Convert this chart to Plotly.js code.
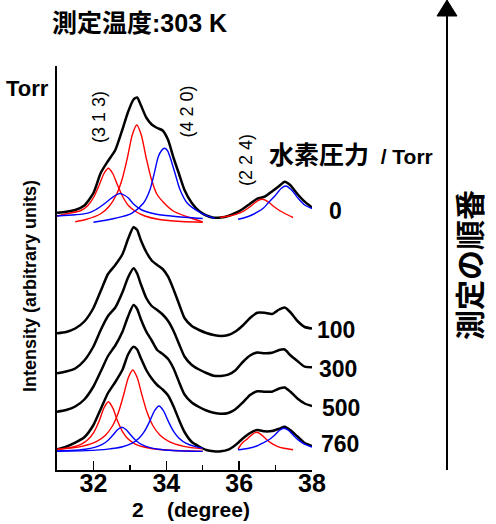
<!DOCTYPE html>
<html><head><meta charset="utf-8">
<script src="https://cdn.plot.ly/plotly-3.0.1.min.js"></script>
<style>html,body{margin:0;padding:0;background:#fff}#chart{width:496px;height:524px}</style>
</head><body><div id="chart"></div>
<script>
// 2θ (degree) sampling positions for measured patterns
const twoTheta = [31.0, 31.25, 31.5, 31.75, 32.0, 32.2, 32.4, 32.6, 32.8, 32.95, 33.1, 33.2, 33.3, 33.45, 33.6, 33.75, 33.9, 34.05, 34.2, 34.35, 34.5, 34.7, 34.9, 35.1, 35.3, 35.5, 35.7, 35.9, 36.1, 36.3, 36.5, 36.7, 36.9, 37.1, 37.25, 37.4, 37.6, 37.8, 38.0];
// measured intensities (arbitrary units, stacked) for each hydrogen pressure
const int0   = [257.3, 258.3, 260.0, 264.5, 277.0, 297.0, 309.0, 320.0, 341.0, 358.0, 370.5, 372.5, 365.0, 352.5, 345.5, 342.0, 339.5, 330.0, 312.0, 296.0, 280.0, 267.0, 259.0, 254.5, 252.3, 252.5, 254.0, 257.0, 261.0, 266.3, 271.3, 273.3, 278.5, 284.0, 288.3, 285.0, 276.0, 268.3, 262.5];
const int100 = [136.7, 138.0, 141.5, 148.5, 162.0, 179.0, 196.0, 205.0, 216.0, 231.0, 242.7, 240.0, 230.0, 218.0, 209.5, 205.0, 201.0, 193.3, 180.5, 166.0, 152.0, 144.0, 140.0, 137.0, 135.0, 134.0, 135.0, 138.5, 144.5, 152.0, 157.3, 157.3, 156.0, 160.5, 162.5, 158.0, 149.0, 143.0, 141.5];
const int300 = [96.7, 98.5, 101.5, 109.5, 123.5, 140.0, 154.0, 162.5, 178.0, 192.5, 201.7, 196.5, 186.0, 172.0, 164.0, 160.0, 155.5, 149.0, 139.0, 126.0, 113.5, 105.0, 100.5, 97.0, 94.3, 94.0, 95.3, 99.8, 108.0, 114.5, 117.5, 116.7, 117.2, 120.0, 120.5, 115.0, 109.0, 103.3, 102.7];
const int500 = [58.3, 60.0, 63.5, 70.5, 83.5, 98.5, 114.0, 124.5, 138.5, 153.5, 165.0, 161.0, 151.0, 138.5, 129.5, 120.0, 116.0, 111.0, 101.5, 88.0, 75.5, 67.5, 63.0, 59.5, 57.3, 56.2, 57.0, 60.8, 67.5, 75.0, 78.8, 78.3, 78.3, 81.5, 82.5, 78.5, 71.5, 66.5, 64.0];
const int760 = [20.7, 23.3, 27.3, 32.7, 45.0, 61.0, 77.0, 88.0, 100.5, 115.5, 123.3, 120.5, 112.0, 100.0, 91.5, 85.0, 80.5, 74.5, 63.5, 50.0, 38.0, 28.0, 23.5, 20.0, 18.7, 18.7, 20.3, 25.0, 31.5, 37.0, 40.0, 38.7, 39.0, 41.3, 43.3, 40.0, 33.5, 27.0, 24.0];

// fitted components, 0 Torr
const fit0RedAx = [31.0, 31.3, 31.66, 31.86, 32.01, 32.16, 32.29, 32.41, 32.53, 32.66, 32.81, 32.96, 33.16, 33.41, 33.81, 34.41, 35.0];
const fit0RedAy = [254.0, 256.5, 259.5, 265.0, 273.0, 285.0, 296.5, 301.7, 296.5, 285.0, 273.0, 264.5, 258.5, 254.0, 250.5, 248.5, 247.8];
const fit0RedBx = [31.5, 31.79, 32.19, 32.44, 32.64, 32.79, 32.94, 33.07, 33.19, 33.31, 33.44, 33.59, 33.74, 33.94, 34.19, 34.59, 35.0];
const fit0RedBy = [248.3, 250.5, 256.0, 264.0, 276.0, 291.0, 313.5, 335.5, 345.0, 335.5, 313.5, 291.0, 276.0, 267.0, 259.0, 253.0, 248.0];
const fit0BlueAx = [31.0, 31.5, 31.85, 32.05, 32.32, 32.5, 32.62, 32.73, 32.84, 32.96, 33.1, 33.33, 33.7, 34.2, 35.0];
const fit0BlueAy = [254.0, 255.2, 256.9, 260.0, 266.7, 272.0, 275.0, 276.5, 275.0, 272.0, 266.0, 260.0, 256.0, 253.8, 251.5];
const fit0BlueBx = [32.0, 32.6, 33.05, 33.37, 33.55, 33.67, 33.78, 33.87, 33.95, 34.03, 34.10, 34.24, 34.38, 34.58, 34.97, 35.33];
const fit0BlueBy = [247.7, 251.7, 256.7, 266.7, 280.0, 296.7, 313.3, 319.5, 321.7, 319.5, 313.3, 296.7, 280.0, 266.7, 256.7, 251.7];
const fit0RedCx = [35.47, 35.73, 35.93, 36.13, 36.28, 36.43, 36.53, 36.63, 36.73, 36.83, 36.98, 37.13, 37.28, 37.48];
const fit0RedCy = [252.6, 254.0, 255.9, 259.0, 262.7, 267.2, 269.7, 270.7, 269.7, 267.2, 262.7, 259.0, 256.0, 252.5];
const fit0BlueCx = [35.97, 36.25, 36.52, 36.67, 36.79, 36.98, 37.16, 37.28, 37.44, 37.62, 37.80, 38.0];
const fit0BlueCy = [250.7, 253.5, 258.3, 262.0, 266.7, 274.0, 281.7, 284.0, 280.0, 271.7, 265.0, 261.5];

// fitted components, 760 Torr
const fit760RedAx = [31.0, 31.41, 31.66, 31.86, 32.01, 32.16, 32.29, 32.41, 32.53, 32.66, 32.81, 32.96, 33.16, 33.41, 33.81, 34.41, 35.0];
const fit760RedAy = [20.5, 22.7, 25.7, 30.7, 37.6, 49.2, 62.1, 68.3, 62.1, 49.2, 37.6, 30.7, 25.7, 22.7, 20.5, 19.3, 18.8];
const fit760RedBx = [31.0, 31.68, 32.08, 32.33, 32.53, 32.68, 32.83, 32.96, 33.08, 33.20, 33.33, 33.48, 33.63, 33.83, 34.08, 34.48, 35.0];
const fit760RedBy = [20.6, 23.6, 28.3, 34.7, 44.5, 56.9, 75.2, 92.5, 100.0, 92.5, 75.2, 56.9, 44.5, 34.7, 28.3, 23.6, 21.1];
const fit760BlueAx = [31.0, 31.38, 31.78, 32.03, 32.23, 32.38, 32.53, 32.66, 32.78, 32.90, 33.03, 33.18, 33.33, 33.53, 33.78, 34.18, 35.0];
const fit760BlueAy = [19.0, 19.5, 20.8, 22.6, 25.4, 29.0, 34.7, 40.2, 42.7, 40.2, 34.7, 29.0, 25.4, 22.6, 20.8, 19.5, 18.6];
const fit760BlueBx = [31.0, 31.8, 32.4, 32.8, 33.05, 33.25, 33.4, 33.55, 33.68, 33.80, 33.92, 34.05, 34.2, 34.35, 34.55, 34.8, 35.0];
const fit760BlueBy = [18.8, 19.4, 20.9, 23.3, 26.6, 31.8, 38.6, 49.1, 59.4, 64.0, 59.4, 49.1, 38.6, 31.8, 26.6, 23.3, 21.8];
const fit760RedCx = [35.97, 36.08, 36.23, 36.36, 36.48, 36.60, 36.73, 36.88, 37.03, 37.23, 37.48];
const fit760RedCy = [21.0, 26.8, 31.3, 35.7, 37.7, 35.7, 31.3, 26.8, 23.9, 21.7, 20.3];
const fit760BlueCx = [35.97, 36.23, 36.48, 36.68, 36.83, 36.98, 37.11, 37.23, 37.35, 37.48, 37.63, 37.78, 38.0];
const fit760BlueCy = [20.2, 21.5, 24.0, 27.5, 30.5, 35.0, 39.7, 41.7, 39.7, 35.0, 29.9, 26.2, 23.0];

// tick labels and text
const tickVals = [32, 34, 36, 38];
const tickText = ['32', '34', '36', '38'];
const minorTickVals = [33, 35, 37];
const pressureLabels = ['0', '100', '300', '500', '760'];
const hklLabels = ['(3 1 3)', '(4 2 0)', '(2 2 4)'];

const FONT = 'Liberation Sans, Arial, Noto Sans CJK JP, sans-serif';
const RED = '#ff0000', BLUE = '#0000ff';

function curve(x, y, color, width, sm) {
  return {x: x, y: y, type: 'scatter', mode: 'lines',
    line: {color: color, width: width, shape: 'spline', smoothing: sm},
    hoverinfo: 'skip', showlegend: false};
}
const traces = [
  curve(twoTheta, int0, 'black', 2.5, 0.6),
  curve(twoTheta, int100, 'black', 2.5, 0.6),
  curve(twoTheta, int300, 'black', 2.5, 0.6),
  curve(twoTheta, int500, 'black', 2.5, 0.6),
  curve(twoTheta, int760, 'black', 2.5, 0.6),
  curve(fit0RedAx, fit0RedAy, RED, 1.4, 0.8),
  curve(fit0RedBx, fit0RedBy, RED, 1.4, 0.8),
  curve(fit0BlueAx, fit0BlueAy, BLUE, 1.4, 0.8),
  curve(fit0BlueBx, fit0BlueBy, BLUE, 1.4, 0.8),
  curve(fit0RedCx, fit0RedCy, RED, 1.4, 0.8),
  curve(fit0BlueCx, fit0BlueCy, BLUE, 1.4, 0.8),
  curve(fit760RedAx, fit760RedAy, RED, 1.4, 0.8),
  curve(fit760RedBx, fit760RedBy, RED, 1.4, 0.8),
  curve(fit760BlueAx, fit760BlueAy, BLUE, 1.4, 0.8),
  curve(fit760BlueBx, fit760BlueBy, BLUE, 1.4, 0.8),
  curve(fit760RedCx, fit760RedCy, RED, 1.4, 0.8),
  curve(fit760BlueCx, fit760BlueCy, BLUE, 1.4, 0.8)
];

function ann(text, x, y, size, o) {
  o = o || {};
  return Object.assign({text: text, x: x, y: y, xref: 'paper', yref: 'paper',
    showarrow: false, xanchor: 'center', yanchor: 'middle',
    font: {family: FONT, size: size, color: 'black', weight: o.normal ? 'normal' : 'bold'}}, o.extra || {});
}

const annotations = [
  ann('測定温度:303 K', -0.0275, 1.1064, 25, {extra: {xanchor: 'left'}}),
  ann('Torr', -0.2078, 0.944, 22, {extra: {xanchor: 'left'}}),
  ann('<span style="font-size:25px">水素圧力</span>\u00A0\u00A0/ Torr', 0.8235, 0.7797, 21, {extra: {xanchor: 'left'}}),
  ann(pressureLabels[0], 1.0902, 0.6411, 23),
  ann(pressureLabels[1], 1.0941, 0.3465, 23),
  ann(pressureLabels[2], 1.1000, 0.2500, 23),
  ann(pressureLabels[3], 1.1137, 0.1547, 23),
  ann(pressureLabels[4], 1.1098, 0.0644, 23),
  ann(hklLabels[0], 0.1627, 0.8750, 18, {normal: true, extra: {textangle: -90}}),
  ann(hklLabels[1], 0.5098, 0.8874, 18, {normal: true, extra: {textangle: -90}}),
  ann(hklLabels[2], 0.7431, 0.7686, 18, {normal: true, extra: {textangle: -90}}),
  ann('測定の順番', 1.6196, 0.5074, 30, {extra: {textangle: -90}}),
  ann('Intensity (arbitrary units)', -0.1059, 0.4554, 18, {extra: {textangle: -90}}),
  ann('2\u00A0\u00A0\u00A0\u00A0(degree)', 0.2863, -0.0978, 21, {extra: {xanchor: 'left'}})
];

const shapes = [
  {type: 'line', xref: 'paper', yref: 'paper', x0: 1.5294, x1: 1.5294, y0: 0, y1: 1.1238,
   line: {color: 'black', width: 2}},
  {type: 'path', xref: 'paper', yref: 'paper',
   path: 'M 1.4902 1.1238 L 1.5686 1.1238 L 1.5294 1.1634 Z',
   fillcolor: 'black', line: {color: 'black', width: 1}}
];

const layout = {
  width: 496, height: 524,
  margin: {l: 57, r: 184, t: 66, b: 54, pad: 0},
  paper_bgcolor: 'white', plot_bgcolor: 'white', showlegend: false,
  xaxis: {range: [31, 38], showline: true, linecolor: 'black', linewidth: 2,
    showgrid: false, zeroline: false, ticks: 'inside', ticklen: 9, tickwidth: 1.5,
    tickcolor: 'black', tickmode: 'array', tickvals: tickVals, ticktext: tickText,
    ticklabelstandoff: -10,
    tickfont: {family: FONT, size: 25, color: 'black', weight: 'bold'},
    minor: {tickmode: 'array', tickvals: minorTickVals, ticks: 'inside', ticklen: 5, tickwidth: 1.5, tickcolor: 'black'}},
  yaxis: {range: [0, 404], showline: true, linecolor: 'black', linewidth: 2,
    showgrid: false, zeroline: false, ticks: '', showticklabels: false},
  annotations: annotations,
  shapes: shapes
};

Plotly.newPlot('chart', traces, layout, {staticPlot: true, displayModeBar: false});
</script>
</body></html>
